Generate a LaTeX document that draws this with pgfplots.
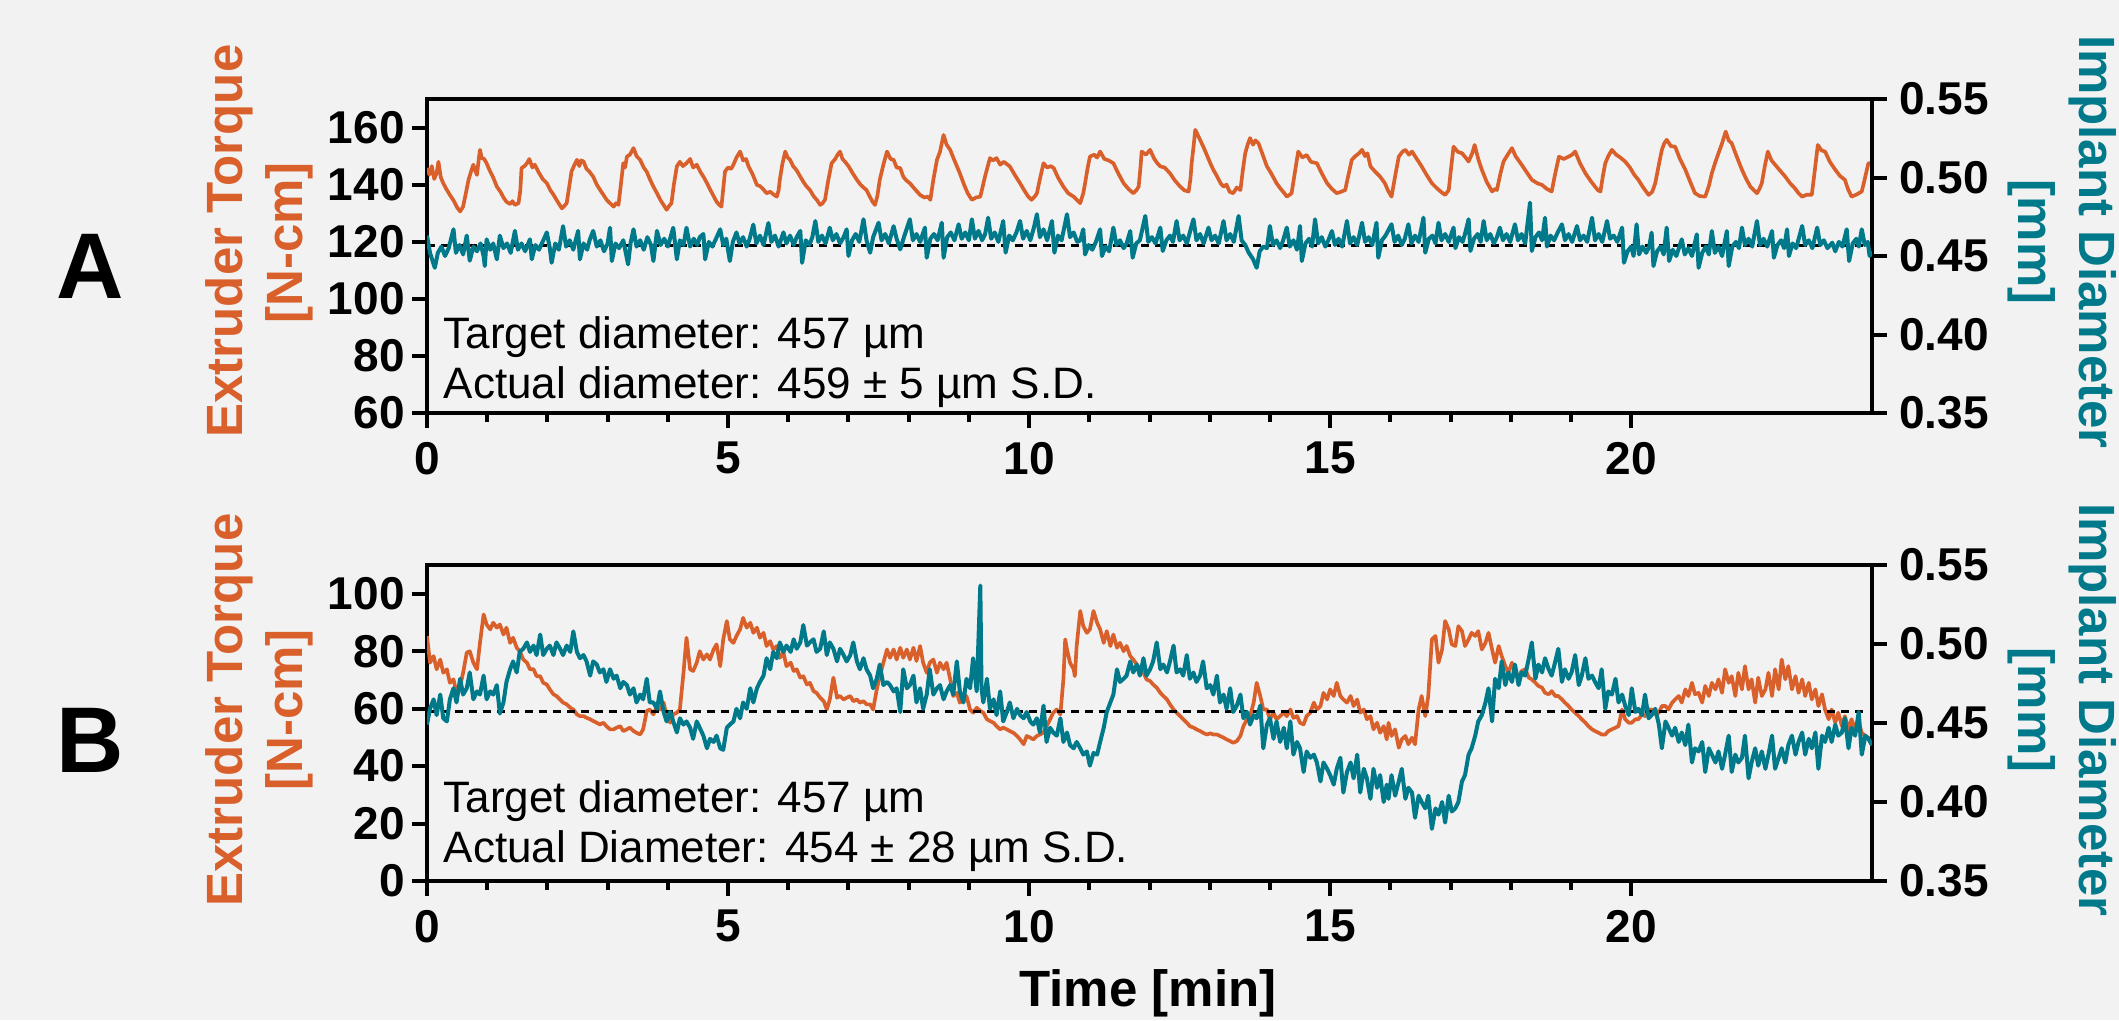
\documentclass[border=0pt]{standalone}
\usepackage{pgfplots}
\pgfplotsset{compat=1.18}
\usepackage{fontspec}
\setmainfont{Liberation Sans}

\definecolor{torque}{RGB}{217,95,43}
\definecolor{diam}{RGB}{0,121,138}
\definecolor{bg}{RGB}{242,242,242}

\pgfplotsset{
  /pgf/number format/assume math mode=true,
  panel/.style={
    scale only axis, width=433.5pt,
    xmin=0, xmax=24,
    xtick={0,5,10,15,20}, minor x tick num=4,
    tick align=outside,
    major tick length=4.5pt, minor tick length=2.7pt,
    tick style={black, line width=1.2pt},
    axis line style={line width=1.3pt},
    tick label style={font=\bfseries\fontsize{13.8}{14}\selectfont},
  },
  leftax/.style={panel, xtick pos=bottom, ytick pos=left,
    xticklabel style={inner sep=4pt}, yticklabel style={inner sep=2pt}},
  rightax/.style={panel, axis x line=none, axis y line*=right,
    ymin=0.35, ymax=0.55, ytick={0.35,0.4,0.45,0.5,0.55},
    yticklabel style={inner sep=3.5pt, /pgf/number format/fixed,
      /pgf/number format/fixed zerofill, /pgf/number format/precision=2}},
  torq/.style={torque, line width=1.1pt, line join=round},
  dia/.style={diam, line width=1.2pt, line join=round},
  target/.style={black, line width=0.9pt, dash pattern=on 2.4pt off 1.8pt},
}

\begin{document}
\begin{tikzpicture}
\useasboundingbox (0,0) rectangle (635.7pt,-306pt);
\fill[bg] (0,0) rectangle (635.7pt,-306pt);

% ---------- panel A ----------
\begin{axis}[leftax, at={(128.1pt,-29.7pt)}, anchor=north west, height=94.2pt,
  ymin=60, ymax=170, ytick={60,80,100,120,140,160}]
\addplot[torq] coordinates {
(0.00,145.8)(0.04,143.5)(0.08,146.5)(0.12,142.0)(0.16,144.0)(0.19,148.0)(0.23,142.5)(0.27,140.5)(0.32,138.5)(0.38,136.4)
(0.44,134.5)(0.50,132.0)(0.55,130.6)(0.60,132.3)(0.65,137.5)(0.69,141.7)(0.73,144.5)(0.77,147.0)(0.80,145.0)(0.83,143.4)
(0.86,149.0)(0.88,152.2)(0.91,149.3)(0.95,149.0)(0.99,147.5)(1.04,145.0)(1.10,142.5)(1.16,139.3)(1.22,137.5)(1.27,135.5)
(1.32,134.0)(1.38,133.2)(1.42,134.2)(1.46,132.9)(1.52,133.5)(1.55,138.0)(1.57,145.8)(1.62,146.5)(1.66,147.5)(1.70,149.0)
(1.75,146.0)(1.79,147.0)(1.85,144.5)(1.92,142.0)(1.99,140.5)(2.05,138.0)(2.10,136.5)(2.15,134.7)(2.20,133.0)(2.24,131.7)
(2.28,132.5)(2.32,133.5)(2.36,139.0)(2.40,144.6)(2.45,147.0)(2.49,148.7)(2.53,146.5)(2.56,148.5)(2.60,148.1)(2.65,145.5)
(2.70,144.5)(2.76,142.8)(2.82,140.0)(2.88,138.0)(2.93,136.4)(2.99,134.5)(3.04,133.5)(3.10,132.3)(3.14,133.5)(3.18,132.9)
(3.22,140.0)(3.26,147.5)(3.29,146.0)(3.32,149.8)(3.37,150.5)(3.43,152.8)(3.48,150.0)(3.54,148.7)(3.60,146.0)(3.65,144.5)
(3.70,142.0)(3.76,139.3)(3.82,137.0)(3.88,134.5)(3.93,132.9)(3.98,131.2)(4.02,132.5)(4.06,133.5)(4.10,140.0)(4.15,146.4)
(4.20,148.0)(4.25,146.5)(4.31,147.5)(4.37,149.0)(4.42,146.0)(4.48,147.0)(4.54,144.5)(4.60,142.5)(4.65,140.5)(4.71,138.0)
(4.76,136.0)(4.81,134.0)(4.85,133.0)(4.89,132.3)(4.92,138.5)(4.95,144.6)(5.00,146.0)(5.05,145.5)(5.09,147.0)(5.14,149.5)
(5.20,151.6)(5.25,148.5)(5.30,149.0)(5.34,146.4)(5.40,144.0)(5.44,142.0)(5.48,139.9)(5.53,139.5)(5.58,138.5)(5.64,137.0)
(5.70,137.5)(5.76,136.5)(5.81,135.8)(5.84,138.0)(5.86,141.7)(5.90,147.0)(5.95,151.6)(5.99,149.5)(6.03,148.7)(6.08,146.5)
(6.14,145.0)(6.20,142.8)(6.25,141.0)(6.30,139.5)(6.36,138.1)(6.42,136.0)(6.48,134.5)(6.53,132.9)(6.57,133.5)(6.61,134.7)
(6.66,141.0)(6.72,147.5)(6.78,149.0)(6.82,150.5)(6.86,151.6)(6.90,149.0)(6.94,148.1)(7.00,146.5)(7.07,144.0)(7.14,141.7)
(7.20,140.0)(7.25,139.0)(7.30,138.1)(7.35,136.0)(7.40,134.0)(7.44,132.9)(7.48,136.0)(7.52,141.7)(7.58,147.0)(7.64,151.6)
(7.70,149.0)(7.75,148.7)(7.80,146.0)(7.86,145.8)(7.91,142.8)(7.96,141.5)(8.02,140.5)(8.10,138.5)(8.19,136.4)(8.26,135.5)
(8.32,135.8)(8.36,134.7)(8.41,141.7)(8.47,148.7)(8.52,151.5)(8.58,157.4)(8.63,154.0)(8.69,152.2)(8.75,149.0)(8.80,146.5)
(8.85,144.0)(8.92,140.0)(8.98,137.0)(9.05,134.7)(9.12,135.5)(9.19,135.8)(9.27,143.0)(9.35,149.3)(9.40,148.5)(9.46,149.3)
(9.52,147.0)(9.58,148.0)(9.68,146.4)(9.76,143.5)(9.85,140.5)(9.92,138.0)(9.98,136.0)(10.04,134.7)(10.10,136.0)(10.13,137.0)
(10.18,142.0)(10.24,147.5)(10.30,146.0)(10.36,146.5)(10.41,145.8)(10.48,142.5)(10.57,139.3)(10.65,137.0)(10.74,135.8)(10.80,134.5)
(10.85,133.5)(10.90,137.0)(10.93,140.5)(10.97,145.5)(11.01,149.8)(11.08,150.5)(11.13,149.5)(11.18,151.6)(11.25,149.0)(11.32,148.5)
(11.40,147.5)(11.48,144.0)(11.57,140.5)(11.65,138.5)(11.73,137.0)(11.78,138.0)(11.82,139.3)(11.85,146.0)(11.87,151.6)(11.94,150.5)
(12.01,152.2)(12.08,149.0)(12.13,147.5)(12.18,146.4)(12.25,146.0)(12.34,144.0)(12.42,141.5)(12.51,139.3)(12.58,138.0)(12.65,137.6)
(12.68,142.0)(12.70,147.5)(12.73,153.0)(12.76,159.2)(12.80,157.5)(12.84,155.7)(12.90,153.0)(12.96,150.0)(13.01,147.5)(13.06,145.2)
(13.12,143.0)(13.18,140.5)(13.23,139.3)(13.28,140.0)(13.33,137.5)(13.39,137.0)(13.45,139.0)(13.51,138.1)(13.55,145.0)(13.59,151.0)
(13.63,154.0)(13.67,156.3)(13.72,154.0)(13.76,155.5)(13.81,154.5)(13.88,150.5)(13.95,146.4)(14.02,144.0)(14.11,140.5)(14.18,138.5)
(14.24,137.0)(14.28,135.8)(14.33,136.5)(14.36,137.0)(14.42,145.0)(14.47,151.6)(14.54,149.5)(14.61,150.4)(14.68,148.0)(14.78,147.5)
(14.86,144.0)(14.95,140.5)(15.03,138.5)(15.11,137.0)(15.18,137.5)(15.25,138.1)(15.30,143.0)(15.36,148.7)(15.42,150.0)(15.48,151.0)
(15.53,152.2)(15.58,150.0)(15.62,151.0)(15.67,146.4)(15.75,144.5)(15.83,142.8)(15.91,140.5)(15.96,138.0)(16.02,135.8)(16.08,143.0)
(16.14,149.8)(16.20,151.5)(16.25,152.2)(16.31,150.5)(16.36,151.6)(16.44,149.0)(16.52,146.4)(16.60,143.5)(16.69,140.5)(16.76,139.0)
(16.84,137.5)(16.91,136.4)(16.97,138.1)(17.01,146.0)(17.05,153.3)(17.12,151.5)(17.19,151.0)(17.25,149.5)(17.30,148.1)(17.36,151.0)
(17.40,153.9)(17.46,149.0)(17.52,145.2)(17.60,141.0)(17.69,137.6)(17.74,138.5)(17.77,138.1)(17.83,144.0)(17.88,148.1)(17.95,150.5)
(18.02,152.8)(18.08,150.0)(18.18,147.0)(18.26,144.5)(18.35,141.7)(18.44,140.5)(18.52,139.9)(18.60,138.5)(18.68,137.6)(18.74,144.0)
(18.80,149.8)(18.88,149.0)(18.96,149.8)(19.02,150.5)(19.07,151.6)(19.15,147.5)(19.24,144.0)(19.32,141.5)(19.40,139.3)(19.45,138.0)
(19.49,137.6)(19.53,143.0)(19.57,147.5)(19.62,150.0)(19.68,152.2)(19.75,150.5)(19.82,149.5)(19.90,148.1)(19.98,146.0)(20.05,143.5)
(20.12,141.7)(20.20,139.0)(20.29,136.4)(20.35,137.5)(20.40,140.5)(20.46,147.0)(20.51,152.2)(20.55,154.5)(20.59,155.7)(20.66,153.5)
(20.73,153.3)(20.81,149.0)(20.90,145.2)(20.98,141.0)(21.06,137.0)(21.14,136.0)(21.23,135.8)(21.29,139.5)(21.34,144.0)(21.40,148.0)
(21.45,151.0)(21.51,154.5)(21.57,158.6)(21.62,155.5)(21.67,154.5)(21.75,150.0)(21.84,145.2)(21.91,142.0)(21.98,139.3)(22.04,138.0)
(22.09,137.0)(22.13,138.5)(22.17,140.5)(22.22,146.5)(22.27,151.6)(22.33,148.5)(22.39,147.0)(22.47,145.0)(22.56,142.8)(22.64,140.5)
(22.72,138.7)(22.78,137.0)(22.84,135.8)(22.92,136.5)(23.00,136.4)(23.05,145.0)(23.10,153.9)(23.16,152.0)(23.22,151.6)(23.30,148.0)
(23.39,145.2)(23.47,143.0)(23.55,141.7)(23.60,138.5)(23.66,135.8)(23.74,136.5)(23.83,137.6)(23.88,142.0)(23.94,147.5)(24.00,147.5)
};
\end{axis}
\begin{axis}[rightax, at={(128.1pt,-29.7pt)}, anchor=north west, height=94.2pt]
\addplot[target] coordinates {(0,0.457)(24,0.457)};
\addplot[dia] coordinates {
(0.00,.4630)(0.05,.4520)(0.10,.4460)(0.13,.4425)(0.18,.4520)(0.24,.4560)(0.30,.4500)(0.36,.4550)(0.44,.4670)(0.48,.4520)
(0.54,.4570)(0.60,.4510)(0.66,.4630)(0.71,.4470)(0.77,.4560)(0.83,.4530)(0.89,.4580)(0.94,.4500)(0.96,.4436)(0.99,.4606)
(1.05,.4540)(1.10,.4580)(1.16,.4479)(1.21,.4630)(1.27,.4550)(1.33,.4580)(1.39,.4520)(1.46,.4660)(1.51,.4540)(1.57,.4580)
(1.63,.4530)(1.71,.4606)(1.74,.4479)(1.80,.4570)(1.86,.4540)(1.92,.4590)(1.99,.4650)(2.04,.4550)(2.07,.4457)(2.13,.4580)
(2.19,.4540)(2.26,.4690)(2.31,.4560)(2.37,.4600)(2.43,.4540)(2.51,.4660)(2.54,.4479)(2.60,.4580)(2.66,.4540)(2.70,.4600)
(2.76,.4660)(2.82,.4560)(2.88,.4600)(2.94,.4530)(3.00,.4580)(3.04,.4680)(3.07,.4468)(3.13,.4580)(3.19,.4550)(3.26,.4600)
(3.34,.4447)(3.38,.4580)(3.43,.4670)(3.48,.4560)(3.54,.4600)(3.60,.4540)(3.66,.4620)(3.72,.4570)(3.76,.4468)(3.82,.4660)
(3.88,.4570)(3.94,.4610)(4.00,.4560)(4.09,.4680)(4.15,.4479)(4.20,.4600)(4.26,.4570)(4.31,.4680)(4.37,.4560)(4.43,.4610)
(4.49,.4570)(4.53,.4620)(4.59,.4640)(4.62,.4479)(4.68,.4590)(4.74,.4560)(4.80,.4610)(4.87,.4670)(4.92,.4570)(4.97,.4610)
(5.03,.4468)(5.08,.4590)(5.14,.4650)(5.19,.4580)(5.25,.4620)(5.31,.4560)(5.36,.4610)(5.42,.4700)(5.47,.4580)(5.53,.4630)
(5.59,.4570)(5.67,.4710)(5.72,.4590)(5.78,.4630)(5.84,.4560)(5.92,.4650)(5.97,.4580)(6.03,.4630)(6.09,.4570)(6.14,.4620)
(6.20,.4660)(6.23,.4457)(6.29,.4600)(6.35,.4570)(6.40,.4620)(6.45,.4723)(6.50,.4590)(6.56,.4630)(6.62,.4580)(6.69,.4680)
(6.74,.4600)(6.80,.4640)(6.86,.4580)(6.92,.4620)(6.97,.4670)(7.00,.4500)(7.06,.4600)(7.12,.4640)(7.18,.4590)(7.25,.4734)
(7.30,.4600)(7.36,.4521)(7.41,.4620)(7.50,.4712)(7.55,.4600)(7.61,.4640)(7.67,.4580)(7.75,.4690)(7.80,.4610)(7.86,.4542)
(7.93,.4630)(8.02,.4734)(8.07,.4600)(8.13,.4640)(8.19,.4590)(8.27,.4681)(8.30,.4489)(8.36,.4610)(8.42,.4640)(8.48,.4600)
(8.55,.4712)(8.58,.4489)(8.64,.4620)(8.70,.4650)(8.76,.4600)(8.83,.4702)(8.88,.4610)(8.94,.4650)(9.00,.4600)(9.05,.4734)
(9.10,.4610)(9.16,.4660)(9.22,.4600)(9.27,.4640)(9.32,.4744)(9.37,.4610)(9.43,.4650)(9.49,.4590)(9.57,.4723)(9.61,.4521)
(9.67,.4630)(9.73,.4600)(9.79,.4650)(9.85,.4723)(9.90,.4610)(9.96,.4660)(10.02,.4600)(10.08,.4680)(10.13,.4766)(10.18,.4620)
(10.24,.4670)(10.30,.4600)(10.38,.4723)(10.42,.4521)(10.48,.4630)(10.54,.4600)(10.63,.4766)(10.68,.4620)(10.74,.4650)(10.80,.4590)
(10.85,.4600)(10.90,.4670)(10.93,.4510)(10.99,.4570)(11.05,.4540)(11.11,.4590)(11.18,.4670)(11.21,.4500)(11.27,.4560)(11.33,.4530)
(11.40,.4681)(11.45,.4570)(11.51,.4600)(11.57,.4550)(11.62,.4580)(11.68,.4659)(11.72,.4489)(11.78,.4580)(11.84,.4600)(11.93,.4755)
(11.98,.4590)(12.04,.4620)(12.10,.4580)(12.18,.4681)(12.22,.4532)(12.28,.4600)(12.34,.4630)(12.39,.4590)(12.45,.4723)(12.50,.4600)
(12.56,.4630)(12.62,.4580)(12.73,.4734)(12.78,.4600)(12.84,.4640)(12.90,.4580)(12.98,.4681)(13.03,.4600)(13.09,.4630)(13.15,.4580)
(13.23,.4723)(13.28,.4600)(13.34,.4640)(13.40,.4590)(13.48,.4755)(13.53,.4600)(13.59,.4570)(13.65,.4520)(13.72,.4480)(13.78,.4425)
(13.83,.4530)(13.89,.4560)(13.95,.4550)(14.00,.4691)(14.05,.4570)(14.11,.4600)(14.17,.4550)(14.22,.4600)(14.28,.4681)(14.33,.4560)
(14.39,.4600)(14.45,.4540)(14.50,.4691)(14.53,.4468)(14.59,.4580)(14.65,.4610)(14.70,.4560)(14.75,.4734)(14.80,.4580)(14.86,.4620)
(14.92,.4560)(14.97,.4600)(15.03,.4659)(15.08,.4570)(15.14,.4610)(15.20,.4560)(15.28,.4723)(15.33,.4580)(15.39,.4620)(15.45,.4570)
(15.53,.4712)(15.58,.4590)(15.64,.4620)(15.70,.4570)(15.77,.4712)(15.80,.4489)(15.86,.4600)(15.92,.4630)(16.02,.4702)(16.07,.4590)
(16.13,.4630)(16.19,.4570)(16.24,.4610)(16.30,.4702)(16.35,.4580)(16.41,.4630)(16.47,.4590)(16.55,.4744)(16.58,.4521)(16.64,.4610)
(16.70,.4630)(16.75,.4580)(16.80,.4712)(16.85,.4600)(16.91,.4640)(16.97,.4590)(17.05,.4681)(17.08,.4550)(17.14,.4620)(17.20,.4590)
(17.24,.4640)(17.30,.4734)(17.33,.4532)(17.39,.4610)(17.45,.4640)(17.50,.4590)(17.55,.4723)(17.60,.4600)(17.66,.4640)(17.72,.4580)
(17.77,.4620)(17.82,.4681)(17.87,.4600)(17.93,.4640)(17.99,.4590)(18.07,.4702)(18.12,.4600)(18.18,.4640)(18.24,.4580)(18.32,.4840)
(18.35,.4532)(18.41,.4620)(18.47,.4650)(18.52,.4600)(18.57,.4744)(18.60,.4560)(18.66,.4630)(18.72,.4600)(18.78,.4650)(18.85,.4702)
(18.90,.4600)(18.96,.4640)(19.02,.4590)(19.10,.4691)(19.15,.4600)(19.21,.4630)(19.27,.4590)(19.35,.4744)(19.40,.4600)(19.46,.4640)
(19.52,.4590)(19.60,.4723)(19.65,.4610)(19.71,.4630)(19.77,.4590)(19.85,.4681)(19.88,.4457)(19.94,.4530)(20.00,.4560)(20.04,.4500)
(20.09,.4702)(20.13,.4510)(20.19,.4560)(20.25,.4520)(20.30,.4560)(20.34,.4649)(20.37,.4436)(20.43,.4530)(20.49,.4560)(20.54,.4510)
(20.59,.4681)(20.63,.4468)(20.69,.4540)(20.75,.4500)(20.84,.4606)(20.89,.4510)(20.95,.4550)(21.01,.4500)(21.09,.4638)(21.12,.4425)
(21.18,.4520)(21.24,.4560)(21.29,.4510)(21.34,.4659)(21.39,.4520)(21.45,.4560)(21.51,.4500)(21.59,.4659)(21.62,.4436)(21.68,.4560)
(21.74,.4590)(21.79,.4550)(21.84,.4681)(21.89,.4570)(21.95,.4610)(22.01,.4560)(22.09,.4723)(22.14,.4570)(22.20,.4610)(22.26,.4560)
(22.34,.4659)(22.37,.4489)(22.43,.4570)(22.49,.4600)(22.54,.4550)(22.59,.4670)(22.62,.4500)(22.68,.4580)(22.74,.4550)(22.84,.4691)
(22.89,.4570)(22.95,.4600)(23.01,.4550)(23.09,.4681)(23.14,.4570)(23.20,.4600)(23.26,.4550)(23.34,.4585)(23.39,.4530)(23.45,.4590)
(23.51,.4560)(23.58,.4670)(23.62,.4468)(23.68,.4580)(23.74,.4610)(23.78,.4560)(23.83,.4670)(23.88,.4570)(23.93,.4590)(23.96,.4500)
(24.00,.4530)
};
\end{axis}

% ---------- panel B ----------
\begin{axis}[leftax, at={(128.1pt,-169.5pt)}, anchor=north west, height=94.8pt,
  ymin=0, ymax=110, ytick={0,20,40,60,80,100}]
\addplot[torq] coordinates {
(0.00,85.3)(0.05,76.0)(0.11,78.3)(0.16,73.7)(0.22,77.1)(0.27,72.5)(0.33,73.7)(0.38,69.0)(0.44,70.2)(0.49,65.5)
(0.55,67.9)(0.60,72.5)(0.66,79.5)(0.71,80.0)(0.77,76.0)(0.83,73.7)(0.88,82.9)(0.94,92.8)(0.99,89.3)(1.05,87.6)
(1.10,89.9)(1.16,88.2)(1.21,89.3)(1.27,85.8)(1.32,88.2)(1.38,82.9)(1.43,84.7)(1.49,81.2)(1.54,80.0)(1.60,77.1)
(1.66,76.0)(1.71,73.7)(1.77,73.7)(1.82,71.3)(1.88,71.3)(1.93,69.0)(1.99,68.4)(2.04,66.7)(2.10,65.0)(2.15,64.4)
(2.21,63.2)(2.26,62.1)(2.32,61.5)(2.38,60.3)(2.43,59.7)(2.49,58.0)(2.54,57.4)(2.60,57.4)(2.65,56.8)(2.71,56.3)
(2.76,55.7)(2.82,55.1)(2.87,54.5)(2.93,55.1)(2.98,53.9)(3.04,52.8)(3.10,52.8)(3.15,53.4)(3.21,53.9)(3.26,52.2)
(3.32,52.8)(3.37,53.4)(3.43,52.2)(3.48,51.6)(3.54,51.0)(3.59,52.8)(3.65,59.2)(3.70,59.7)(3.76,58.0)(3.82,60.9)
(3.87,59.7)(3.93,62.1)(3.98,57.4)(4.04,55.1)(4.09,58.0)(4.15,58.6)(4.20,59.7)(4.26,72.5)(4.31,84.7)(4.37,73.7)
(4.42,73.1)(4.48,76.0)(4.53,80.0)(4.59,77.1)(4.65,78.9)(4.70,77.1)(4.76,80.6)(4.81,82.4)(4.87,74.8)(4.92,84.1)
(4.98,90.5)(5.03,84.1)(5.09,82.9)(5.14,85.3)(5.20,87.6)(5.25,91.6)(5.31,88.2)(5.37,89.9)(5.42,86.4)(5.48,88.2)
(5.53,84.7)(5.59,86.4)(5.64,81.8)(5.70,83.5)(5.75,80.6)(5.81,81.8)(5.86,77.7)(5.92,79.5)(5.97,74.8)(6.04,76.0)
(6.09,73.1)(6.14,73.7)(6.20,70.8)(6.25,71.3)(6.31,68.4)(6.36,69.0)(6.42,66.1)(6.47,65.5)(6.53,63.8)(6.59,62.6)
(6.64,59.7)(6.69,63.2)(6.75,70.8)(6.81,63.8)(6.86,64.4)(6.92,63.2)(6.97,63.8)(7.03,64.4)(7.08,62.6)(7.14,63.2)
(7.19,62.1)(7.25,62.6)(7.30,61.5)(7.36,61.5)(7.41,59.7)(7.47,66.7)(7.52,71.3)(7.58,76.0)(7.64,80.6)(7.69,77.7)
(7.75,80.6)(7.80,77.1)(7.86,81.2)(7.91,77.7)(7.97,80.6)(8.02,77.1)(8.08,81.2)(8.13,76.6)(8.19,81.8)(8.24,76.0)
(8.30,72.5)(8.35,76.0)(8.41,77.1)(8.47,72.5)(8.52,76.0)(8.58,73.7)(8.63,76.0)(8.69,70.2)(8.74,64.4)(8.80,65.5)
(8.85,62.1)(8.91,63.2)(8.96,64.4)(9.02,59.7)(9.07,58.6)(9.13,60.3)(9.19,59.2)(9.24,58.6)(9.30,56.3)(9.35,55.7)
(9.41,55.1)(9.46,53.9)(9.52,52.8)(9.57,53.4)(9.63,52.8)(9.68,52.2)(9.74,51.6)(9.80,50.5)(9.85,49.3)(9.91,47.6)
(9.96,50.5)(10.02,49.9)(10.07,49.3)(10.13,50.5)(10.18,51.0)(10.24,51.6)(10.29,53.9)(10.35,56.3)(10.40,58.6)(10.46,59.7)
(10.52,58.0)(10.57,70.2)(10.60,84.1)(10.63,80.6)(10.68,76.0)(10.74,73.7)(10.76,71.3)(10.79,81.8)(10.85,94.0)(10.90,88.7)
(10.96,86.4)(11.01,87.6)(11.07,94.0)(11.13,89.9)(11.18,87.6)(11.24,82.9)(11.29,87.0)(11.35,81.8)(11.40,85.8)(11.46,81.2)
(11.51,82.9)(11.57,80.0)(11.62,81.8)(11.68,78.3)(11.73,77.1)(11.79,75.4)(11.84,73.7)(11.90,72.5)(11.95,70.2)(12.01,69.6)
(12.06,68.4)(12.12,67.3)(12.18,65.5)(12.23,64.4)(12.29,63.2)(12.34,61.5)(12.40,59.7)(12.45,58.6)(12.51,57.4)(12.56,56.3)
(12.62,55.1)(12.67,53.9)(12.73,53.4)(12.78,52.8)(12.84,52.2)(12.89,51.6)(12.95,51.0)(13.01,51.4)(13.06,51.0)(13.12,51.0)
(13.17,50.5)(13.23,49.9)(13.28,49.3)(13.34,48.7)(13.39,48.1)(13.45,48.7)(13.51,50.5)(13.56,53.9)(13.62,56.3)(13.67,57.4)
(13.73,62.1)(13.78,69.0)(13.84,64.4)(13.89,59.7)(13.95,59.7)(14.00,56.3)(14.06,58.6)(14.11,56.3)(14.17,57.4)(14.23,58.6)
(14.28,57.4)(14.34,59.7)(14.39,56.8)(14.45,57.4)(14.50,55.1)(14.56,54.5)(14.61,57.4)(14.67,58.6)(14.73,62.1)(14.78,59.7)
(14.84,60.9)(14.89,65.5)(14.95,63.2)(15.00,66.7)(15.06,64.4)(15.11,69.0)(15.17,64.4)(15.22,63.2)(15.28,62.1)(15.34,64.4)
(15.39,60.9)(15.45,63.2)(15.50,58.6)(15.56,59.7)(15.61,56.3)(15.67,57.4)(15.72,52.8)(15.78,55.1)(15.83,51.6)(15.89,53.9)
(15.94,49.3)(15.97,55.1)(16.02,50.5)(16.08,52.8)(16.14,46.4)(16.19,49.3)(16.25,50.5)(16.30,47.6)(16.36,49.9)(16.41,47.6)
(16.47,59.7)(16.52,64.4)(16.58,57.4)(16.63,64.4)(16.69,84.1)(16.75,85.3)(16.80,76.0)(16.86,80.6)(16.91,90.5)(16.97,87.6)
(17.02,82.4)(17.08,81.8)(17.13,88.7)(17.19,87.0)(17.24,81.8)(17.30,84.1)(17.35,86.4)(17.41,85.3)(17.46,87.0)(17.52,80.6)
(17.58,82.9)(17.63,86.4)(17.69,80.6)(17.74,76.0)(17.80,81.8)(17.85,78.3)(17.91,74.8)(17.96,72.5)(18.02,76.0)(18.07,72.5)
(18.13,71.3)(18.18,73.1)(18.24,73.7)(18.30,70.8)(18.35,70.2)(18.41,69.0)(18.46,67.9)(18.52,67.3)(18.57,65.5)(18.63,65.0)
(18.68,66.1)(18.74,64.4)(18.79,64.4)(18.85,63.2)(18.90,62.1)(18.96,60.9)(19.01,59.7)(19.07,58.6)(19.13,57.4)(19.18,56.3)
(19.24,55.1)(19.29,53.9)(19.35,52.8)(19.40,52.2)(19.46,51.6)(19.51,51.0)(19.57,51.0)(19.62,52.2)(19.68,52.8)(19.74,53.4)
(19.79,53.9)(19.85,59.7)(19.90,56.3)(19.96,55.1)(20.01,55.1)(20.07,56.3)(20.12,56.3)(20.18,58.0)(20.23,57.4)(20.29,59.7)
(20.34,59.7)(20.40,58.0)(20.46,58.6)(20.51,60.9)(20.57,60.9)(20.62,59.7)(20.68,62.1)(20.73,63.2)(20.79,64.4)(20.84,62.1)
(20.90,66.7)(20.95,64.4)(21.01,69.0)(21.06,65.0)(21.12,65.5)(21.18,62.1)(21.23,67.9)(21.29,64.4)(21.34,69.0)(21.40,66.7)
(21.45,70.2)(21.51,65.5)(21.56,73.7)(21.62,69.0)(21.67,71.3)(21.73,64.4)(21.78,72.5)(21.84,66.7)(21.89,74.8)(21.95,66.7)
(22.00,70.2)(22.06,62.1)(22.11,70.8)(22.17,64.4)(22.23,66.7)(22.28,72.5)(22.34,64.4)(22.39,73.7)(22.45,66.7)(22.50,77.1)
(22.56,70.2)(22.61,74.8)(22.67,66.7)(22.73,71.3)(22.78,65.5)(22.84,70.2)(22.89,64.4)(22.95,69.0)(23.00,63.2)(23.06,66.7)
(23.11,60.9)(23.17,65.0)(23.22,59.7)(23.28,56.3)(23.33,59.7)(23.39,55.1)(23.44,58.6)(23.50,53.9)(23.55,57.4)(23.61,52.8)
(23.66,56.3)(23.72,52.8)(23.78,55.1)(23.83,51.6)(23.89,50.5)(23.94,49.9)(24.00,48.1)
};
\end{axis}
\begin{axis}[rightax, at={(128.1pt,-169.5pt)}, anchor=north west, height=94.8pt]
\addplot[target] coordinates {(0,0.457)(23.85,0.457)};
\addplot[dia] coordinates {
(0.00,.449)(0.05,.459)(0.11,.465)(0.16,.455)(0.22,.468)(0.27,.453)(0.33,.451)(0.38,.465)(0.44,.472)(0.49,.463)
(0.55,.478)(0.60,.468)(0.66,.472)(0.71,.482)(0.77,.465)(0.83,.470)(0.88,.468)(0.94,.480)(0.99,.465)(1.05,.470)
(1.10,.468)(1.16,.474)(1.21,.456)(1.27,.463)(1.32,.476)(1.38,.484)(1.43,.489)(1.49,.482)(1.54,.495)(1.60,.497)
(1.66,.501)(1.71,.495)(1.77,.499)(1.82,.493)(1.88,.506)(1.93,.493)(1.99,.497)(2.04,.499)(2.10,.493)(2.15,.501)
(2.21,.497)(2.26,.493)(2.32,.499)(2.38,.495)(2.43,.508)(2.49,.495)(2.54,.491)(2.60,.493)(2.65,.489)(2.71,.480)
(2.76,.489)(2.82,.487)(2.87,.482)(2.93,.484)(2.98,.476)(3.04,.484)(3.10,.478)(3.15,.480)(3.21,.472)(3.26,.476)
(3.32,.474)(3.37,.468)(3.43,.472)(3.48,.463)(3.54,.468)(3.59,.465)(3.65,.478)(3.70,.463)(3.76,.463)(3.82,.459)
(3.87,.470)(3.93,.457)(3.98,.451)(4.04,.457)(4.09,.451)(4.15,.444)(4.20,.453)(4.26,.449)(4.31,.451)(4.37,.447)
(4.42,.440)(4.48,.451)(4.53,.447)(4.59,.442)(4.65,.434)(4.70,.440)(4.76,.438)(4.81,.442)(4.87,.434)(4.92,.433)
(4.98,.447)(5.03,.449)(5.09,.451)(5.14,.459)(5.20,.453)(5.25,.463)(5.31,.459)(5.37,.472)(5.42,.463)(5.48,.472)
(5.53,.476)(5.59,.480)(5.64,.491)(5.70,.484)(5.75,.495)(5.81,.491)(5.86,.501)(5.92,.495)(5.97,.499)(6.04,.495)
(6.09,.503)(6.14,.497)(6.20,.501)(6.25,.512)(6.31,.499)(6.36,.501)(6.42,.503)(6.47,.495)(6.53,.497)(6.59,.508)
(6.64,.493)(6.69,.501)(6.75,.497)(6.81,.489)(6.86,.497)(6.92,.493)(6.97,.489)(7.03,.493)(7.08,.501)(7.14,.489)
(7.19,.484)(7.25,.491)(7.30,.484)(7.36,.480)(7.41,.472)(7.47,.478)(7.52,.487)(7.58,.474)(7.64,.476)(7.69,.474)
(7.75,.470)(7.80,.472)(7.86,.457)(7.91,.484)(7.97,.472)(8.02,.474)(8.08,.480)(8.13,.463)(8.19,.472)(8.24,.459)
(8.30,.468)(8.35,.484)(8.41,.468)(8.47,.472)(8.52,.474)(8.58,.465)(8.63,.470)(8.69,.474)(8.74,.468)(8.80,.489)
(8.85,.470)(8.91,.463)(8.96,.478)(9.02,.472)(9.07,.491)(9.13,.470)(9.19,.537)(9.21,.472)(9.24,.463)(9.30,.478)
(9.35,.459)(9.41,.465)(9.46,.455)(9.52,.470)(9.57,.451)(9.63,.457)(9.68,.463)(9.74,.453)(9.80,.459)(9.85,.455)
(9.91,.453)(9.96,.457)(10.02,.451)(10.07,.449)(10.13,.453)(10.18,.444)(10.24,.461)(10.29,.438)(10.35,.447)(10.40,.444)
(10.46,.442)(10.52,.453)(10.57,.438)(10.63,.444)(10.68,.436)(10.74,.434)(10.79,.438)(10.85,.434)(10.90,.430)(10.96,.432)
(11.01,.423)(11.07,.431)(11.13,.430)(11.18,.438)(11.24,.447)(11.29,.457)(11.35,.463)(11.40,.468)(11.46,.484)(11.51,.476)
(11.57,.478)(11.62,.480)(11.68,.489)(11.73,.482)(11.79,.487)(11.84,.480)(11.90,.491)(11.95,.480)(12.01,.484)(12.06,.489)
(12.12,.501)(12.18,.484)(12.23,.487)(12.29,.482)(12.34,.489)(12.40,.499)(12.45,.482)(12.51,.484)(12.56,.480)(12.62,.493)
(12.67,.478)(12.73,.482)(12.78,.476)(12.84,.480)(12.89,.489)(12.95,.472)(13.01,.474)(13.06,.468)(13.12,.480)(13.17,.463)
(13.23,.468)(13.28,.459)(13.34,.472)(13.39,.457)(13.45,.461)(13.51,.468)(13.56,.453)(13.62,.457)(13.67,.449)(13.73,.455)
(13.78,.453)(13.84,.461)(13.89,.434)(13.95,.449)(14.00,.453)(14.06,.440)(14.11,.451)(14.17,.438)(14.23,.447)(14.28,.434)
(14.34,.451)(14.39,.430)(14.45,.438)(14.50,.434)(14.56,.419)(14.61,.432)(14.67,.428)(14.73,.430)(14.78,.425)(14.84,.413)
(14.89,.425)(14.95,.421)(15.00,.417)(15.06,.411)(15.11,.421)(15.17,.428)(15.22,.406)(15.28,.419)(15.34,.425)(15.39,.415)
(15.45,.430)(15.50,.406)(15.56,.421)(15.61,.415)(15.67,.402)(15.72,.421)(15.78,.409)(15.83,.417)(15.89,.400)(15.94,.411)
(15.97,.402)(16.02,.417)(16.08,.404)(16.14,.413)(16.19,.421)(16.25,.402)(16.30,.409)(16.36,.406)(16.41,.390)(16.47,.404)
(16.52,.400)(16.58,.396)(16.63,.404)(16.69,.383)(16.75,.396)(16.80,.392)(16.86,.400)(16.91,.387)(16.97,.404)(17.02,.394)
(17.08,.396)(17.13,.400)(17.19,.413)(17.24,.417)(17.30,.430)(17.35,.434)(17.41,.442)(17.46,.451)(17.52,.455)(17.58,.463)
(17.63,.472)(17.69,.451)(17.74,.478)(17.80,.472)(17.85,.489)(17.91,.474)(17.96,.482)(18.02,.476)(18.07,.487)(18.13,.474)
(18.18,.482)(18.24,.480)(18.30,.491)(18.35,.501)(18.41,.478)(18.46,.487)(18.52,.482)(18.57,.491)(18.63,.484)(18.68,.480)
(18.74,.489)(18.79,.497)(18.85,.476)(18.90,.484)(18.96,.478)(19.01,.482)(19.07,.493)(19.13,.474)(19.18,.480)(19.24,.491)
(19.29,.478)(19.35,.480)(19.40,.476)(19.46,.472)(19.51,.484)(19.57,.459)(19.62,.470)(19.68,.468)(19.74,.478)(19.79,.463)
(19.85,.468)(19.90,.461)(19.96,.455)(20.01,.472)(20.07,.457)(20.12,.459)(20.18,.455)(20.23,.468)(20.29,.453)(20.34,.455)
(20.40,.459)(20.46,.449)(20.51,.434)(20.57,.451)(20.62,.447)(20.68,.442)(20.73,.447)(20.79,.438)(20.84,.444)(20.90,.436)
(20.95,.449)(21.01,.425)(21.06,.434)(21.12,.432)(21.18,.438)(21.23,.419)(21.29,.434)(21.34,.430)(21.40,.425)(21.45,.432)
(21.51,.421)(21.56,.430)(21.62,.442)(21.67,.419)(21.73,.430)(21.78,.425)(21.84,.428)(21.89,.442)(21.95,.415)(22.00,.425)
(22.06,.434)(22.11,.423)(22.17,.432)(22.23,.421)(22.28,.430)(22.34,.442)(22.39,.421)(22.45,.428)(22.50,.434)(22.56,.425)
(22.61,.436)(22.67,.442)(22.73,.430)(22.78,.438)(22.84,.444)(22.89,.430)(22.95,.440)(23.00,.434)(23.06,.444)(23.11,.421)
(23.17,.442)(23.22,.438)(23.28,.447)(23.33,.438)(23.39,.449)(23.44,.442)(23.50,.444)(23.55,.453)(23.61,.434)(23.66,.447)
(23.72,.442)(23.78,.457)(23.83,.430)(23.89,.442)(23.94,.440)(24.00,.436)
};
\end{axis}

% ---------- text ----------
\begin{scope}[every node/.style={inner sep=0pt}]
\node[anchor=base, font=\bfseries\fontsize{28}{30}\selectfont] at (27pt,-89.4pt) {A};
\node[anchor=base, font=\bfseries\fontsize{28}{30}\selectfont] at (27pt,-231.6pt) {B};

\node[anchor=base west, font=\fontsize{13.2}{14}\selectfont] at (132.9pt,-104.4pt) {Target diameter: 457 µm};
\node[anchor=base west, font=\fontsize{13.2}{14}\selectfont] at (132.9pt,-119.4pt) {Actual diameter: 459 ± 5 µm S.D.};
\node[anchor=base west, font=\fontsize{13.2}{14}\selectfont] at (132.9pt,-243.6pt) {Target diameter: 457 µm};
\node[anchor=base west, font=\fontsize{13.2}{14}\selectfont] at (132.9pt,-258.6pt) {Actual Diameter: 454 ± 28 µm S.D.};

\begin{scope}[every node/.append style={font=\bfseries\fontsize{15.3}{16}\selectfont, anchor=base}]
\node[rotate=90, text=torque] at (72.6pt,-72.3pt) {Extruder Torque};
\node[rotate=90, text=torque] at (90.6pt,-72.9pt) {[N-cm]};
\node[rotate=90, text=torque] at (72.6pt,-213pt) {Extruder Torque};
\node[rotate=90, text=torque] at (90.6pt,-213pt) {[N-cm]};
\node[rotate=-90, text=diam] at (623.7pt,-72.6pt) {Implant Diameter};
\node[rotate=-90, text=diam] at (605.4pt,-72.6pt) {[mm]};
\node[rotate=-90, text=diam] at (623.7pt,-213pt) {Implant Diameter};
\node[rotate=-90, text=diam] at (605.4pt,-213pt) {[mm]};
\node at (344.4pt,-301.8pt) {Time [min]};
\end{scope}
\end{scope}
\end{tikzpicture}
\end{document}
